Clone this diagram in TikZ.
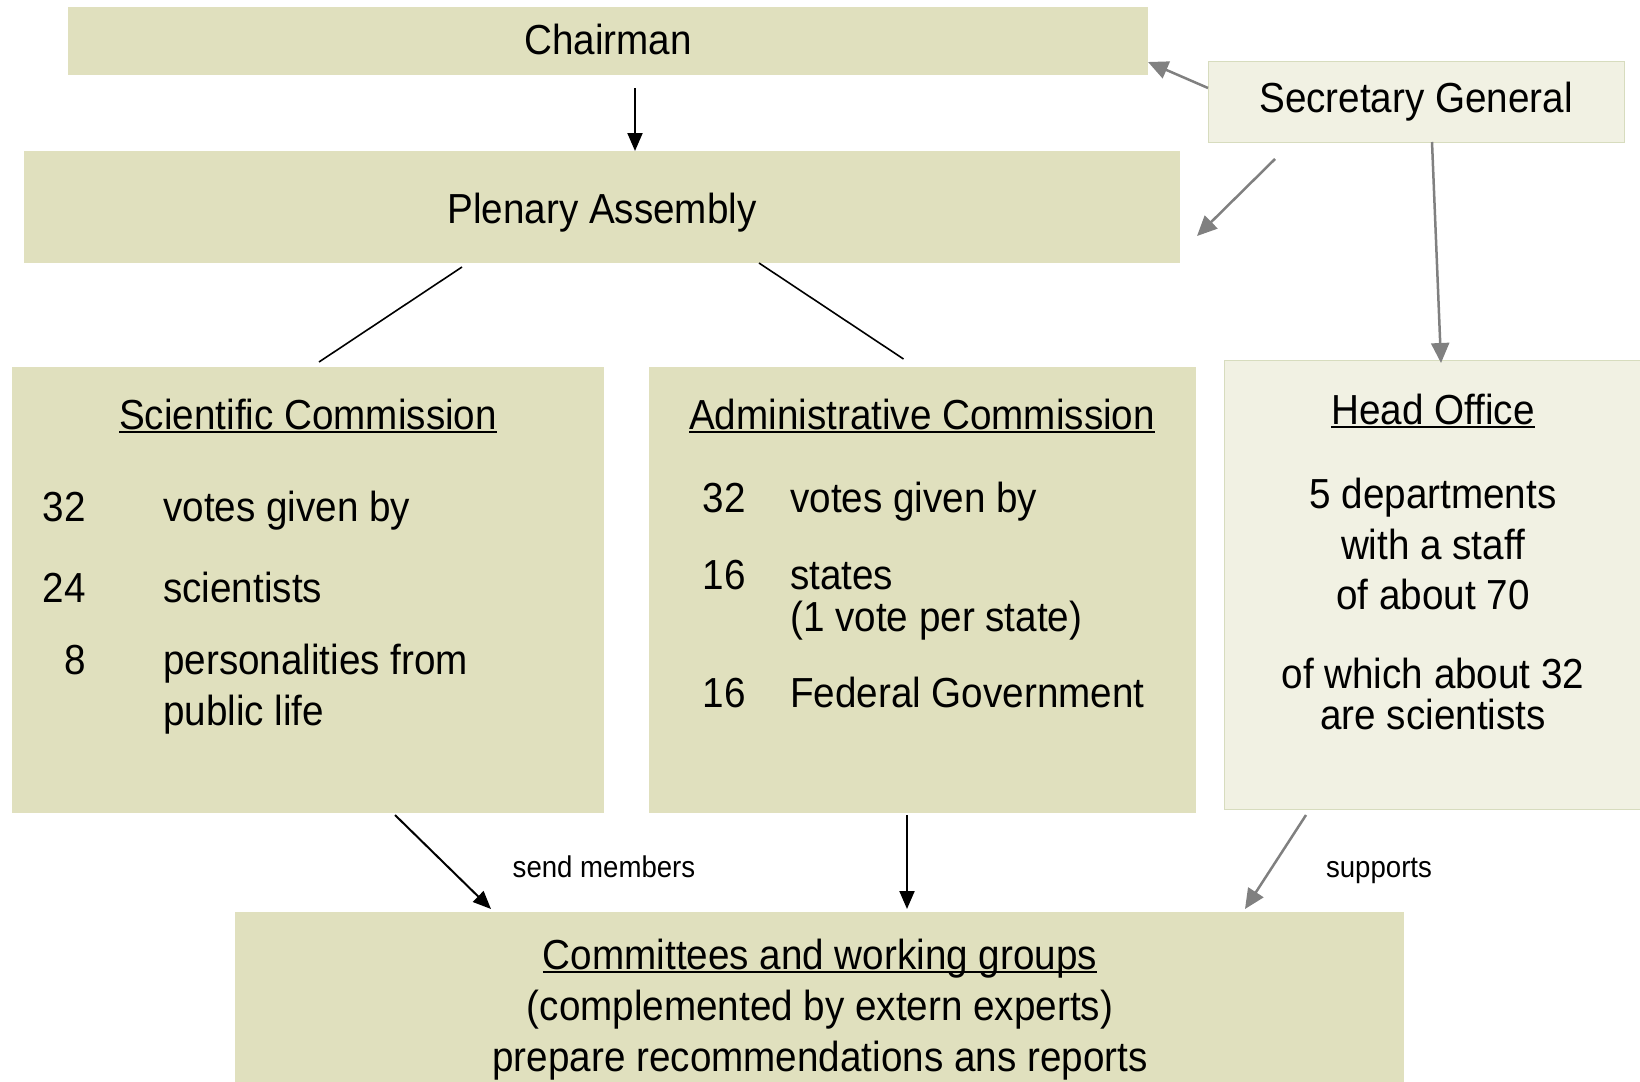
\documentclass[tikz,border=0pt]{standalone}
\usepackage{fontspec}
\setmainfont{Liberation Sans}[FakeStretch=0.92]
\usetikzlibrary{arrows.meta}
\definecolor{khaki}{RGB}{224,224,190}
\definecolor{lightkhaki}{RGB}{241,241,227}
\definecolor{khakiedge}{RGB}{215,220,190}
\definecolor{arrowgray}{RGB}{128,128,128}
\newsavebox\ulbox
\newcommand\myul[1]{\sbox\ulbox{#1}\rlap{\rule[-4pt]{\wd\ulbox}{1.8pt}}\usebox\ulbox}
\begin{document}
\begin{tikzpicture}[x=1pt,y=-1pt,
  box/.style={fill=khaki,draw=none,inner sep=0pt,outer sep=0pt,anchor=north west},
  lightbox/.style={fill=lightkhaki,draw=khakiedge,line width=1pt,inner sep=0pt,outer sep=0pt,anchor=north west},
  txt/.style={inner sep=0pt,font=\fontsize{42}{50}\selectfont},
  small/.style={inner sep=0pt,font=\fontsize{30}{36}\selectfont},
  blackarrow/.style={line width=2pt,-{Triangle[length=18pt,width=15pt]}},
  grayarrow/.style={draw=arrowgray,line width=2.5pt,-{Triangle[length=20pt,width=18pt]}},
  plainline/.style={line width=1.6pt}
]
\useasboundingbox (0,0) rectangle (1640,1081);
% boxes
\node[box,minimum width=1080pt,minimum height=68pt] (chair) at (68,7) {};
\node[lightbox,minimum width=416pt,minimum height=80pt] (sec) at (1208,62) {};
\node[box,minimum width=1156pt,minimum height=112pt] (plen) at (24,151) {};
\node[box,minimum width=592pt,minimum height=446pt] (sci) at (12,367) {};
\node[box,minimum width=547pt,minimum height=446pt] (adm) at (649,367) {};
\node[lightbox,minimum width=418pt,minimum height=449pt] (ho) at (1224,360) {};
\node[box,minimum width=1169pt,minimum height=172pt] (comm) at (235,912) {};
% texts
\node[txt,anchor=base] (tchair) at (608,55) {Chairman};
\node[txt,anchor=base] (tsec) at (1416,112) {Secretary General};
\node[txt,anchor=base] (tplen) at (602,223) {Plenary Assembly};
\node[txt,anchor=base] (tsci) at (308,429) {\myul{Scientific Commission}};
\node[txt,anchor=base east] (s1n) at (86,521) {32};
\node[txt,anchor=base west] (s1t) at (163,521) {votes given by};
\node[txt,anchor=base east] (s2n) at (86,602) {24};
\node[txt,anchor=base west] (s2t) at (163,602) {scientists};
\node[txt,anchor=base east] (s3n) at (86,674) {8};
\node[txt,anchor=base west] (s3t) at (163,674) {personalities from};
\node[txt,anchor=base west] (s4t) at (163,725) {public life};
\node[txt,anchor=base] (tadm) at (922,429) {\myul{Administrative Commission}};
\node[txt,anchor=base east] (a1n) at (746,512) {32};
\node[txt,anchor=base west] (a1t) at (790,512) {votes given by};
\node[txt,anchor=base east] (a2n) at (746,589) {16};
\node[txt,anchor=base west] (a2t) at (790,589) {states};
\node[txt,anchor=base west] (a3t) at (790,631) {(1 vote per state)};
\node[txt,anchor=base east] (a4n) at (746,707) {16};
\node[txt,anchor=base west] (a4t) at (790,707) {Federal Government};
\node[txt,anchor=base] (tho) at (1433,424) {\myul{Head Office}};
\node[txt,anchor=base] (h1) at (1433,508) {5 departments};
\node[txt,anchor=base] (h2) at (1433,559) {with a staff};
\node[txt,anchor=base] (h3) at (1433,609) {of about 70};
\node[txt,anchor=base] (h4) at (1433,688) {of which about 32};
\node[txt,anchor=base] (h5) at (1433,729) {are scientists};
\node[txt,anchor=base] (c1) at (820,969) {\myul{Committees and working groups}};
\node[txt,anchor=base] (c2) at (820,1020) {(complemented by extern experts)};
\node[txt,anchor=base] (c3) at (820,1071) {prepare recommendations ans reports};
\node[small,anchor=base] (lsend) at (604,877) {send members};
\node[small,anchor=base] (lsup) at (1379,877) {supports};
% connectors
\draw[blackarrow] ([xshift=27pt,yshift=-13pt]chair.south) -- ([xshift=33pt]plen.north);
\draw[grayarrow] ([yshift=14pt]sec.west) -- ([yshift=-21pt]chair.east);
\draw[grayarrow] ([xshift=67pt,yshift=-17pt]sec.south west) -- ([xshift=17pt,yshift=-29pt]plen.east);
\draw[grayarrow] ([xshift=16pt]sec.south) -- ([xshift=8pt,yshift=-3pt]ho.north);
\draw[plainline] ([xshift=438pt,yshift=-4pt]plen.south west) -- ([xshift=11pt,yshift=5pt]sci.north);
\draw[plainline] ([xshift=735pt]plen.south west) -- ([xshift=-19pt,yshift=8pt]adm.north);
\draw[blackarrow] ([xshift=383pt,yshift=-2pt]sci.south west) -- ([xshift=256pt,yshift=3pt]comm.north west);
\draw[blackarrow] ([xshift=-15.5pt,yshift=-2pt]adm.south) -- ([xshift=672pt,yshift=3pt]comm.north west);
\draw[grayarrow] ([xshift=82pt,yshift=-6pt]ho.south west) -- ([xshift=1010pt,yshift=3pt]comm.north west);
\end{tikzpicture}
\end{document}
